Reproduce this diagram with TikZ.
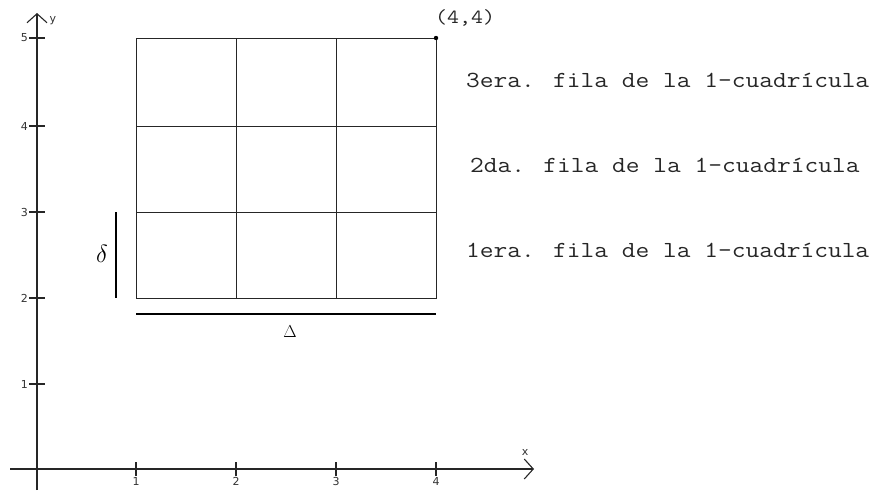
\documentclass[tikz,border=0pt]{standalone}
\usepackage{fontspec}
\newfontfamily\monof[FakeStretch=1.16]{Latin Modern Mono}
\newfontfamily\tickf{DejaVu Sans}
\usetikzlibrary{arrows.meta}
\begin{document}
\begin{tikzpicture}[x=1pt,y=-1pt,
  axisline/.style={line width=1.2pt,draw=black!85,-{Straight Barb[length=9pt,width=20pt,line width=1.1pt]}},
  tickmark/.style={line width=1.1pt,draw=black!85},
  ticklabel/.style={font=\tickf\fontsize{11}{11}\selectfont,text=black!80,inner sep=0pt},
  gridline/.style={line width=1pt,draw=black!85},
  thickbar/.style={line width=2.8pt,draw=black},
  rowtext/.style={font=\monof\fontsize{23}{23}\selectfont,text=black!85,inner sep=0pt,anchor=west},
  every node/.style={inner sep=0pt}]
\useasboundingbox (0,0) rectangle (874,490);
% axes
\coordinate (xs) at (10,469);
\coordinate (xe) at (534,469);
\coordinate (ys) at (37,490);
\coordinate (ye) at (37,13);
\draw[axisline] (xs) -- (xe);
\draw[axisline] (ys) -- (ye);
\node[font=\tickf\fontsize{11}{11}\selectfont,text=black!80] (xl) at (525,452) {x};
\node[font=\tickf\fontsize{11}{11}\selectfont,text=black!80] (yl) at (53,21) {y};
% y ticks
\foreach \v/\yy in {1/384,2/298,3/212,4/126,5/38}{
  \draw[tickmark] (29,\yy) -- (45,\yy);
  \node[ticklabel,anchor=east] (yt\v) at (28,\yy) {\v};
}
% x ticks
\foreach \v/\xx in {1/136,2/236,3/336,4/436}{
  \draw[tickmark] (\xx,462) -- (\xx,476);
  \node[ticklabel,anchor=north] (xt\v) at (\xx,477) {\v};
}
% grid
\coordinate (g00) at (136,298);
\coordinate (g11) at (436,38);
\draw[gridline] (g00) rectangle (g11);
\foreach \xx in {236,336}{\draw[gridline] (\xx,38) -- (\xx,298);}
\foreach \yy in {126,212}{\draw[gridline] (136,\yy) -- (436,\yy);}
\fill[black] (g11) circle (2.2pt);
\node[font=\monof\fontsize{20}{20}\selectfont,text=black!85,anchor=west] (corner) at (435,18) {(4,4)};
% bars
\coordinate (vb1) at (116,212);
\coordinate (vb2) at (116,298);
\coordinate (hb1) at (136,314);
\coordinate (hb2) at (436,314);
\draw[thickbar] (vb1) -- (vb2);
\draw[thickbar] (hb1) -- (hb2);
\node[font=\fontsize{29}{29}\selectfont] (delta) at (102,254) {$\delta$};
\node[font=\fontsize{19}{19}\selectfont] (Delta) at (290,332) {$\Delta$};
% row texts
\node[rowtext] (r3) at (466,80) {3era. fila de la 1-cuadrícula};
\node[rowtext] (r2) at (470,165) {2da. fila de la 1-cuadrícula};
\node[rowtext] (r1) at (466,250) {1era. fila de la 1-cuadrícula};
\end{tikzpicture}
\end{document}
